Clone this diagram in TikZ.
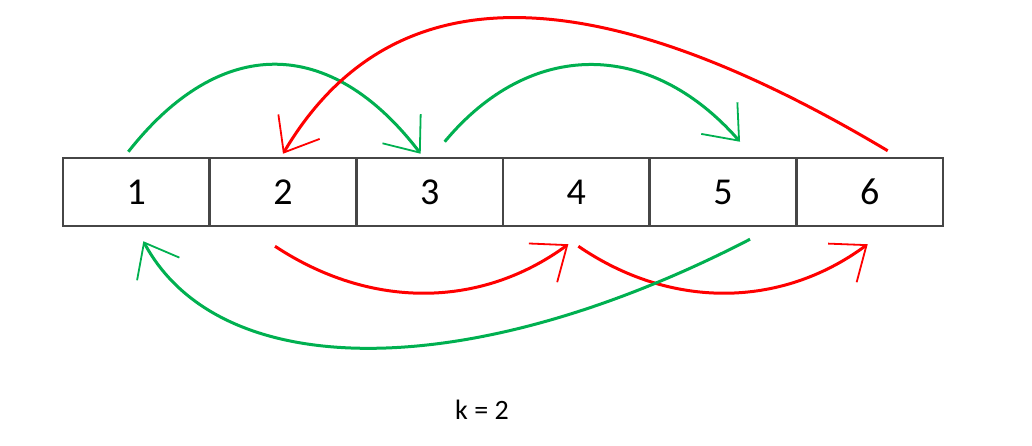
\documentclass[tikz,border=0pt]{standalone}
\usepackage{fontspec}
\setmainfont{Carlito}
\usetikzlibrary{arrows.meta}
\definecolor{arrgreen}{RGB}{0,176,80}
\definecolor{arrred}{RGB}{255,0,0}
\definecolor{cellgray}{RGB}{70,70,70}
\tikzset{
  cell/.style={draw=cellgray,line width=2.5pt,minimum width=146.67pt,minimum height=68pt,inner sep=0pt,font=\fontsize{38}{42}\selectfont},
  hop/.style={line width=3pt,-{Straight Barb[length=30pt,width=48pt,line width=1.8pt]}},
}
\begin{document}
\begin{tikzpicture}[x=1pt,y=-1pt]
  \useasboundingbox (0,0) rectangle (1032,446);
  \foreach \i in {1,...,6}
    \node[cell] (c\i) at ({63+146.67*(\i-0.5)},192) {\i};
  % jumps above the array
  \draw[hop,arrgreen] ([xshift=-8pt,yshift=5pt]c1.north) .. controls (220,35) and (330,35) .. ([xshift=-9pt,yshift=3pt]c3.north);
  \draw[hop,arrgreen] ([xshift=15pt,yshift=15pt]c3.north) .. controls (530,39) and (650,39) .. ([xshift=17pt,yshift=15pt]c5.north);
  \draw[hop,arrred] ([xshift=18pt,yshift=6pt]c6.north) .. controls (590,-27) and (390,-27) .. ([yshift=3pt]c2.north);
  % jumps below the array
  \draw[hop,arrred] ([xshift=-8pt,yshift=-19pt]c2.south) .. controls (370,309) and (480,309) .. ([xshift=-8pt,yshift=-17pt]c4.south);
  \draw[hop,arrred] ([xshift=2pt,yshift=-19pt]c4.south) .. controls (670,309) and (780,309) .. ([xshift=-2pt,yshift=-17pt]c6.south);
  \draw[hop,arrgreen] ([xshift=27pt,yshift=-12pt]c5.south) .. controls (470,384) and (220,384) .. ([xshift=7pt,yshift=-14pt]c1.south);
  \node[font=\fontsize{28}{32}\selectfont] (klabel) at (482,410) {k = 2};
\end{tikzpicture}
\end{document}
